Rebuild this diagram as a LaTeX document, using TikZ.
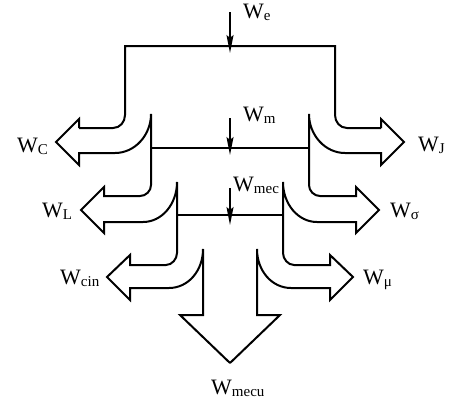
\documentclass[tikz,border=0pt]{standalone}
\usepackage{fontspec}
\setmainfont{Liberation Serif}
\usepackage{tikz}
\usetikzlibrary{arrows.meta}
\newcommand{\Wsub}[1]{W\raisebox{-2.5pt}{\fontsize{15}{15}\selectfont #1}}

\begin{document}
\begin{tikzpicture}[x=1pt, y=-1pt,
		flow/.style={line width=2pt, line join=miter},
		tap/.style={line width=1.4pt, -{Stealth[length=18pt, width=7pt, inset=3pt]}},
		lbl/.style={anchor=base west, inner sep=0pt, font=\fontsize{22}{22}\selectfont}]
			\useasboundingbox (0,0) rectangle (470,402);

			\foreach \s in {1,-1} {
				\begin{scope}[shift={(230,0)}, xscale=\s]
					\draw[flow] (-151,128) -- (-117,128) .. controls (-110,128) and (-105,122) .. (-105,115) -- (-105,46) -- (0,46);
					\draw[flow] (-151,128) -- (-151,119) -- (-174,142) -- (-151,165) -- (-151,153) -- (-115,153)
						.. controls (-95,153) and (-79,135) .. (-79,114) -- (-79,185)
						.. controls (-79,191) and (-84,196) .. (-90,196) -- (-126,196) -- (-126,187) -- (-149,210) -- (-126,233) -- (-126,222) -- (-87,222)
						.. controls (-68,222) and (-53,204) .. (-53,182) -- (-53,253)
						.. controls (-53,259) and (-58,265) .. (-64,265) -- (-100,265) -- (-100,255) -- (-123,277) -- (-100,300) -- (-100,288) -- (-61,288)
						.. controls (-42,288) and (-27,271) .. (-27,249) -- (-27,315) -- (-50,315) -- (0,363);
					\draw[flow] (-79,148) -- (0,148);
					\draw[flow] (-53,215) -- (0,215);
				\end{scope}
			}

			\coordinate (e0) at (230,12);
			\coordinate (e1) at (230,53);
			\coordinate (m0) at (230,118);
			\coordinate (m1) at (230,155);
			\coordinate (c0) at (230,188);
			\coordinate (c1) at (230,225);
			\draw[tap] (e0) -- (e1);
			\draw[tap] (m0) -- (m1);
			\draw[tap] (c0) -- (c1);

			\node[lbl] (We) at (243,18) {\Wsub{e}};
			\node[lbl] (Wm) at (243,121) {\Wsub{m}};
			\node[lbl] (WC) at (17,152) {\Wsub{C}};
			\node[lbl] (WJ) at (418,151) {\Wsub{J}};
			\node[lbl] (Wmec) at (233,191) {\Wsub{mec}};
			\node[lbl] (WL) at (42,217) {\Wsub{L}};
			\node[lbl] (Ws) at (390,217) {\Wsub{σ}};
			\node[lbl] (Wcin) at (60,284) {\Wsub{cin}};
			\node[lbl] (Wmu) at (363,284) {\Wsub{μ}};
			\node[lbl] (Wmecu) at (211,394) {\Wsub{mecu}};
		\end{tikzpicture}
\end{document}
